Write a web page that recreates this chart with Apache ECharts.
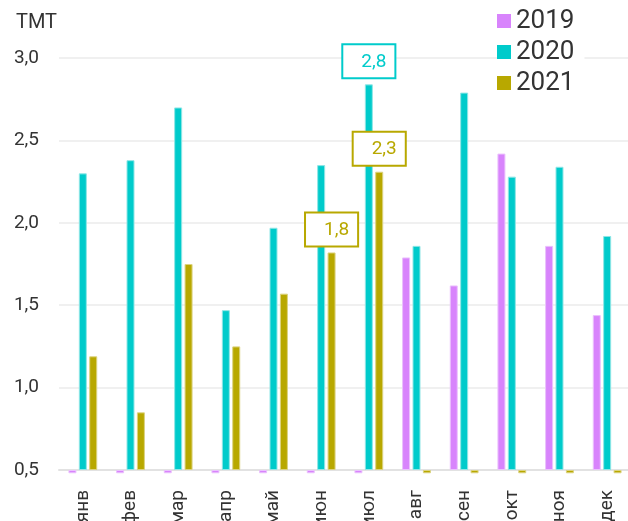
<!DOCTYPE html>
<html>
<head>
<meta charset="utf-8">
<script src="https://cdn.jsdelivr.net/npm/echarts@6/dist/echarts.min.js"></script>
<style>
  html, body { margin: 0; padding: 0; background: #fff; }
  #chart { width: 628px; height: 521px; }
</style>
</head>
<body>
<div id="chart"></div>
<script>
// Monthly values, ТМТ
const months = ['янв', 'фев', 'мар', 'апр', 'май', 'июн', 'июл', 'авг', 'сен', 'окт', 'ноя', 'дек'];
const years = ['2019', '2020', '2021'];
// months without data are drawn as a small stub just under the baseline
const values2019 = [0.48, 0.48, 0.48, 0.48, 0.48, 0.48, 0.48, 1.79, 1.62, 2.42, 1.86, 1.44];
const values2020 = [2.30, 2.38, 2.70, 1.47, 1.97, 2.35, 2.84, 1.86, 2.79, 2.28, 2.34, 1.92];
const values2021 = [1.19, 0.85, 1.75, 1.25, 1.57, 1.82, 2.31, 0.48, 0.48, 0.48, 0.48, 0.48];
// months whose value is printed above the bar
const labeled2019 = [];
const labeled2020 = [6];
const labeled2021 = [5, 6];
const yTicks = [0.5, 1.0, 1.5, 2.0, 2.5, 3.0];

const colors = ['#D884FC', '#00CBCB', '#B8A800'];
const edgeColors = ['#EBC2FD', '#8FE6E6', '#DCD380'];
const fmt = v => v.toFixed(1).replace('.', ',');

function buildData(values, labeled, color) {
  return values.map((v, i) => {
    if (labeled.indexOf(i) < 0) return v;
    return {
      value: v,
      label: {
        show: true,
        position: 'top',
        distance: 7,
        formatter: p => fmt(p.value),
        color: color,
        fontFamily: 'Roboto',
        fontSize: 19,
        backgroundColor: '#fff',
        borderColor: color,
        borderWidth: 2,
        padding: [7, 8, 6, 18]
      }
    };
  });
}

const seriesValues = [values2019, values2020, values2021];
const seriesLabeled = [labeled2019, labeled2020, labeled2021];

const chart = echarts.init(document.getElementById('chart'), null, { renderer: 'canvas' });
chart.setOption({
  animation: false,
  color: colors,
  legend: {
    data: years,
    orient: 'vertical',
    left: 497,
    top: 8,
    padding: [0, 10, 2, 0],
    backgroundColor: '#fff',
    icon: 'rect',
    itemWidth: 14,
    itemHeight: 14,
    itemGap: 5,
    itemStyle: { borderWidth: 0 },
    textStyle: { fontFamily: 'Roboto', fontSize: 26, color: '#333' }
  },
  grid: { left: 59, top: 58, width: 572, bottom: 51, containLabel: false, outerBoundsMode: 'none' },
  xAxis: {
    type: 'category',
    data: months,
    axisTick: { show: false },
    axisLine: { show: true, lineStyle: { color: '#e2e2e2', width: 2 } },
    axisLabel: {
      rotate: 90,
      margin: 20,
      interval: 0,
      fontFamily: 'Roboto',
      fontSize: 19,
      color: '#333'
    }
  },
  yAxis: {
    type: 'value',
    min: yTicks[0],
    max: yTicks[yTicks.length - 1],
    interval: 0.5,
    startValue: yTicks[0],
    name: 'ТМТ',
    nameLocation: 'end',
    nameGap: 25,
    nameTextStyle: { fontFamily: 'Roboto', fontSize: 20, color: '#333', align: 'right', padding: [0, 2, 0, 0] },
    axisLine: { show: false },
    axisTick: { show: false },
    splitLine: { show: true, lineStyle: { color: '#f0f0f0', width: 2 } },
    axisLabel: {
      margin: 20,
      fontFamily: 'Roboto',
      fontSize: 19,
      color: '#333',
      formatter: v => fmt(v)
    }
  },
  series: years.map((y, k) => ({
    name: y,
    type: 'bar',
    clip: false,
    barWidth: 8,
    barGap: '30%',
    itemStyle: { color: colors[k], borderColor: edgeColors[k], borderWidth: 1 },
    data: buildData(seriesValues[k], seriesLabeled[k], colors[k])
  }))
});
</script>
</body>
</html>
